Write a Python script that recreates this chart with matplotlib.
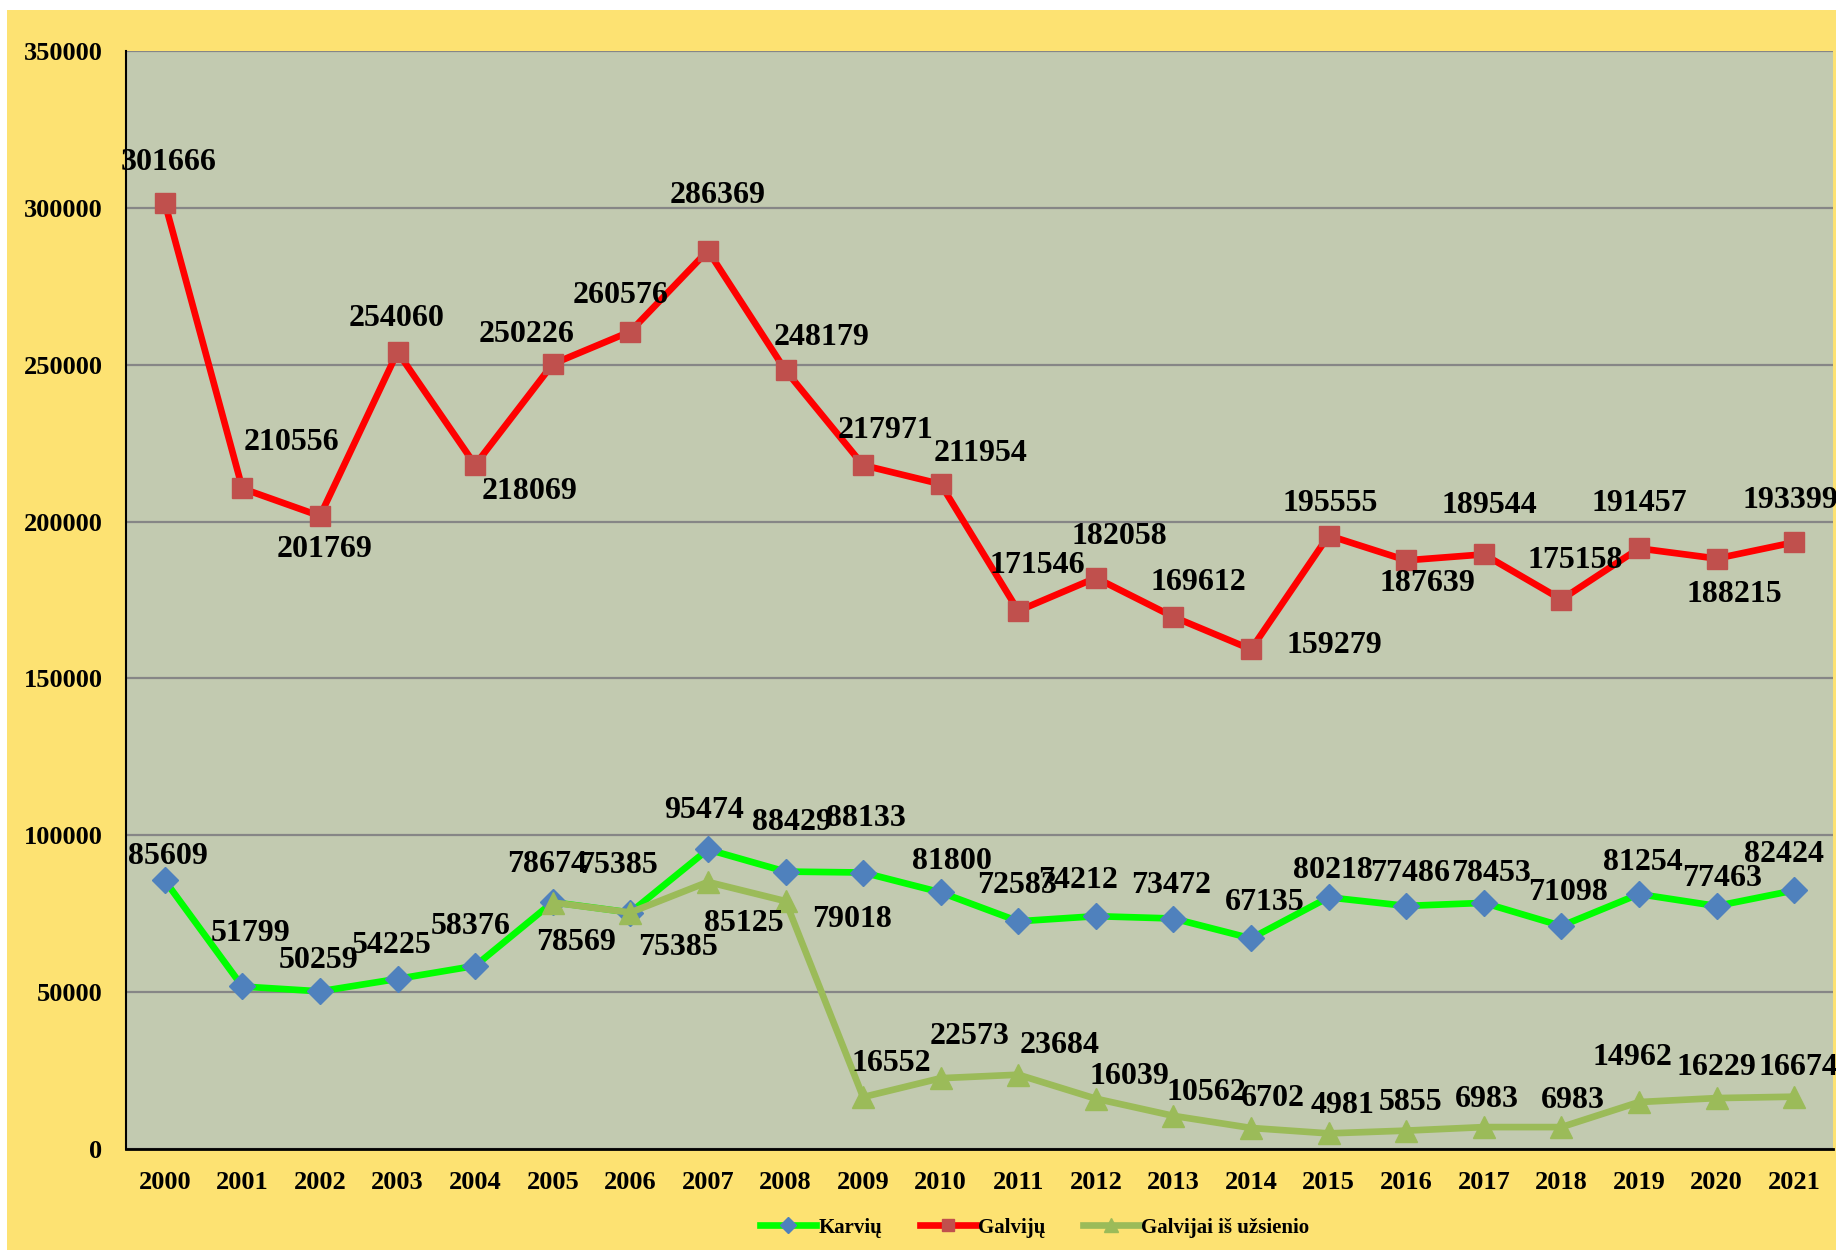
import numpy as np
import matplotlib.pyplot as plt
from matplotlib.patches import Rectangle

years = [str(y) for y in range(2000, 2022)]

karviu = [85609, 51799, 50259, 54225, 58376, 78674, 75385, 95474, 88429, 88133, 81800,
          72583, 74212, 73472, 67135, 80218, 77486, 78453, 71098, 81254, 77463, 82424]
galviju = [301666, 210556, 201769, 254060, 218069, 250226, 260576, 286369, 248179, 217971, 211954,
           171546, 182058, 169612, 159279, 195555, 187639, 189544, 175158, 191457, 188215, 193399]
# imported cattle series begins in 2005
uzsienio_years = years[5:]
uzsienio = [78569, 75385, 85125, 79018, 16552, 22573, 23684, 16039, 10562, 6702, 4981,
            5855, 6983, 6983, 14962, 16229, 16674]

# label offsets (points) from each marker
off_galviju = [(3, 29), (35, 33), (3, -24), (-1, 24), (39, -19), (-19, 21), (-7, 26), (7, 40),
               (26, 24), (16, 25), (29, 22), (14, 33), (17, 30), (18, 25), (60, 3), (1, 23),
               (15, -17), (4, 35), (10, 28), (0, 32), (13, -26), (-3, 30)]
off_karviu = [(2, 17), (6, 38), (-1, 22), (-4, 24), (-3, 28), (-4, 27), (-9, 34), (-3, 28),
              (5, 35), (2, 39), (8, 22), (-1, 26), (-13, 26), (-2, 24), (10, 26), (3, 19),
              (3, 23), (5, 21), (5, 24), (3, 23), (4, 20), (-7, 26)]
off_uzsienio = [(17, -29), (34, -25), (26, -30), (48, -13), (20, 24), (21, 30), (30, 21),
                (24, 16), (24, 17), (16, 21), (10, 20), (3, 20), (2, 20), (8, 19),
                (-5, 32), (0, 22), (3, 21)]

BG = "#FDE272"
PLOT_BG = "#C2CAB0"
plt.rcParams["font.family"] = ["Liberation Serif", "DejaVu Serif"]
plt.rcParams["font.weight"] = "bold"

fig = plt.figure(figsize=(18.36, 12.5), dpi=100, facecolor=BG)
fig.patches.append(Rectangle((0, 1240 / 1250), 1, 10 / 1250, transform=fig.transFigure,
                             facecolor="white", edgecolor="none", zorder=0))
fig.patches.append(Rectangle((0, 0), 7 / 1836, 1, transform=fig.transFigure,
                             facecolor="white", edgecolor="none", zorder=0))

ax = fig.add_axes([126 / 1836, 101 / 1250, 1707 / 1836, 1098 / 1250])
ax.set_facecolor(PLOT_BG)

x = np.arange(len(years))
xu = np.arange(5, len(years))

ax.plot(x, karviu, color="#00FF00", lw=4.8, marker="D", ms=13, mfc="#4F81BD", mec="#4F81BD",
        label="Karvių", zorder=3)
ax.plot(x, galviju, color="#FF0000", lw=4.8, marker="s", ms=14, mfc="#C0504D", mec="#C0504D",
        label="Galvijų", zorder=3)
ax.plot(xu, uzsienio, color="#9BBB59", lw=4.8, marker="^", ms=16, mfc="#9BBB59", mec="#9BBB59",
        label="Galvijai iš užsienio", zorder=4)

def add_labels(xs, vals, offs):
    for xi, v, (dx, dy) in zip(xs, vals, offs):
        ax.annotate(str(v), (xi, v), xytext=(dx, dy), textcoords="offset points",
                    ha="center", va="center", fontsize=23, fontweight="bold", zorder=5)

add_labels(x, galviju, off_galviju)
add_labels(x, karviu, off_karviu)
add_labels(xu, uzsienio, off_uzsienio)

ax.set_xlim(-0.5, len(years) - 0.5)
ax.set_ylim(0, 350000)
ax.set_yticks(np.arange(0, 350001, 50000))
ax.set_xticks(x)
ax.set_xticklabels(years)
ax.tick_params(axis="y", length=0, pad=17, labelsize=19)
ax.tick_params(axis="x", length=0, pad=16, labelsize=19)
for lab in ax.get_xticklabels() + ax.get_yticklabels():
    lab.set_fontweight("bold")

ax.grid(axis="y", color="#868686", lw=1.6, zorder=1)
ax.set_axisbelow(True)
for side in ("top", "right"):
    ax.spines[side].set_visible(False)
ax.spines["left"].set_linewidth(1.5)
ax.spines["bottom"].set_linewidth(2)

leg = fig.legend(loc="center", bbox_to_anchor=(0.5635, 0.018), ncol=3, frameon=False,
                 prop={"size": 15, "weight": "bold"}, handlelength=2.7, columnspacing=1.8,
                 handletextpad=0.1, markerscale=0.65)

fig.savefig("out.png", dpi=100, facecolor=BG)
